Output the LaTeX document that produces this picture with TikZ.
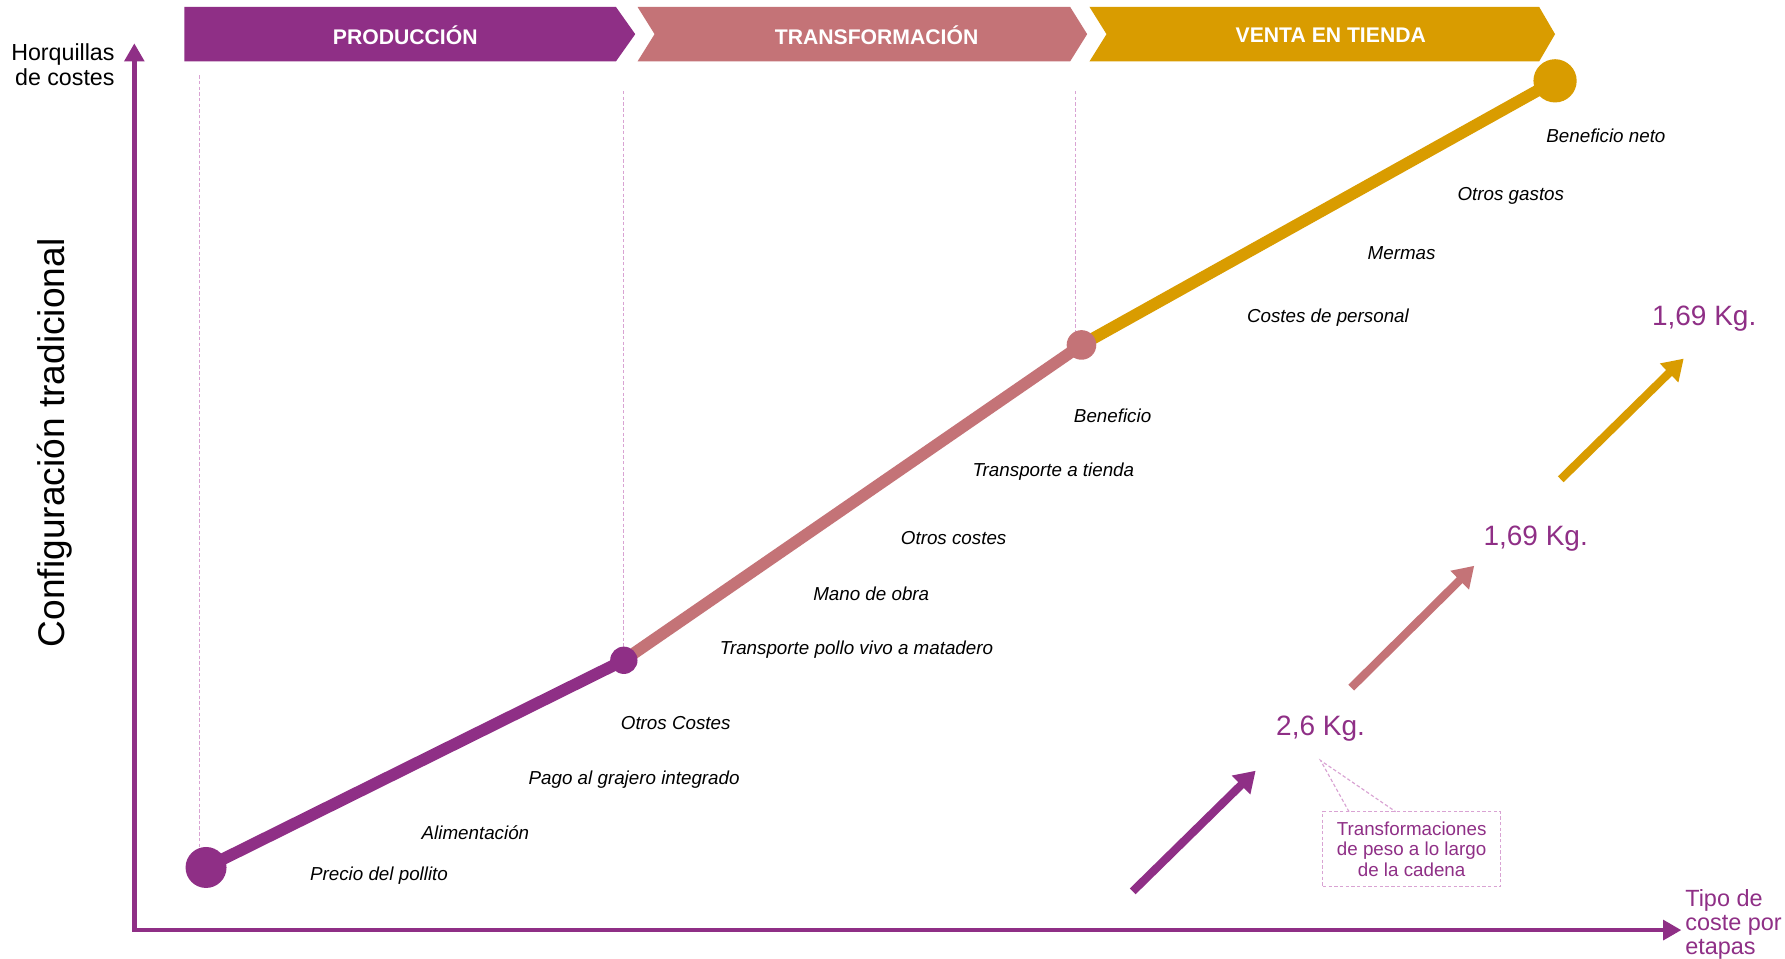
\documentclass[tikz,border=0pt]{standalone}
\usepackage{fontspec}
\setmainfont{Liberation Sans}
\usetikzlibrary{arrows.meta}
\definecolor{cpur}{HTML}{8F2F86}
\definecolor{cpink}{HTML}{C47377}
\definecolor{cgold}{HTML}{D99C00}
\definecolor{cdot}{HTML}{D9A3D3}
\tikzset{
  axisline/.style={draw=cpur, line width=2pt, -{Triangle[length=8pt,width=8.5pt]}},
  guide/.style={draw=cdot, line width=0.4pt, dash pattern=on 1.5pt off 1pt},
  seg/.style={line width=5.2pt},
  dotnode/.style={circle, inner sep=0pt, minimum size=#1},
  costlabel/.style={anchor=west, inner sep=0pt, font=\fontsize{8.25}{10}\selectfont\itshape, text=black},
  bannertext/.style={text=white, font=\fontsize{9.3}{11}\selectfont\bfseries},
  weight/.style={text=cpur, font=\fontsize{12.3}{14}\selectfont, inner sep=0pt},
  wharrow/.style={line width=3.6pt, -{Triangle[length=9pt,width=11pt]}},
}
\begin{document}
\begin{tikzpicture}[x=0.5pt,y=-0.5pt]
\useasboundingbox (0,0) rectangle (1568,842);
\fill[white] (0,0) rectangle (1568,842);

% banners
\fill[cpur] (162,6) -- (541,6) -- (558,30) -- (541,54) -- (162,54) -- cycle;
\fill[cpink] (560,6) -- (940,6) -- (955,30) -- (940,54) -- (560,54) -- (575,30) -- cycle;
\fill[cgold] (957,6) -- (1352,6) -- (1366,30) -- (1352,54) -- (957,54) -- (972,30) -- cycle;
\node[bannertext] (bprod) at (356,31) {PRODUCCIÓN};
\node[bannertext] (btrans) at (770,31) {TRANSFORMACIÓN};
\node[bannertext] (bventa) at (1169,31) {VENTA EN TIENDA};

% axes
\coordinate (origin) at (118,817);
\coordinate (ytip) at (118,38);
\coordinate (xtip) at (1477,817);
\draw[axisline] (origin) -- (ytip);
\draw[axisline] (116,817) -- (xtip);
\node[anchor=east, align=right, font=\fontsize{10.2}{11}\selectfont, inner sep=0pt] (ylab) at (101,57) {Horquillas\\de costes};
\node[anchor=north west, align=left, text=cpur, font=\fontsize{10.3}{10.5}\selectfont, inner sep=0pt] (xlab) at (1480,781) {Tipo de\\coste por\\etapas};
\node[rotate=90, font=\fontsize{16.3}{18}\selectfont] (conf) at (48,389) {Configuración tradicional};

% guide lines
\coordinate (g1a) at (175,66); \coordinate (g1b) at (175,756);
\coordinate (g2a) at (548,80); \coordinate (g2b) at (548,572);
\coordinate (g3a) at (945,80); \coordinate (g3b) at (945,296);
\draw[guide] (g1a) -- (g1b);
\draw[guide] (g2a) -- (g2b);
\draw[guide] (g3a) -- (g3b);

% main line
\coordinate (c1) at (181,762);
\coordinate (c2) at (548,580);
\coordinate (c3) at (950,303);
\coordinate (c4) at (1366,71);
\draw[seg, cpur] (c1) -- (c2);
\draw[seg, cpink] (c2) -- (c3);
\draw[seg, cgold] (c3) -- (c4);
\node[dotnode=18pt, fill=cpur] (d1) at (c1) {};
\node[dotnode=12pt, fill=cpur] (d2) at (c2) {};
\node[dotnode=13pt, fill=cpink] (d3) at (c3) {};
\node[dotnode=19pt, fill=cgold] (d4) at (c4) {};

% cost labels
\node[costlabel] (l1) at (272,769) {Precio del pollito};
\node[costlabel] (l2) at (370,731) {Alimentación};
\node[costlabel] (l3) at (464,685) {Pago al grajero integrado};
\node[costlabel] (l4) at (545,635) {Otros Costes};
\node[costlabel] (l5) at (632,571) {Transporte pollo vivo a matadero};
\node[costlabel] (l6) at (714,522) {Mano de obra};
\node[costlabel] (l7) at (791,473) {Otros costes};
\node[costlabel] (l8) at (854,414) {Transporte a tienda};
\node[costlabel] (l9) at (943,365) {Beneficio};
\node[costlabel] (l10) at (1095,279) {Costes de personal};
\node[costlabel] (l11) at (1201,222) {Mermas};
\node[costlabel] (l12) at (1280,172) {Otros gastos};
\node[costlabel] (l13) at (1358,119) {Beneficio neto};

% weight arrows
\coordinate (a1s) at (995,783); \coordinate (a1e) at (1103,677);
\coordinate (a2s) at (1187,604); \coordinate (a2e) at (1295,497);
\coordinate (a3s) at (1371,421); \coordinate (a3e) at (1479,315);
\draw[wharrow, cpur] (a1s) -- (a1e);
\draw[wharrow, cpink] (a2s) -- (a2e);
\draw[wharrow, cgold] (a3s) -- (a3e);
\node[weight] (w1) at (1160,640) {2,6 Kg.};
\node[weight] (w2) at (1349,473) {1,69 Kg.};
\node[weight] (w3) at (1497,280) {1,69 Kg.};

% callout
\node[draw=cdot, dash pattern=on 1.5pt off 1pt, line width=0.5pt, text=cpur, align=center,
      font=\fontsize{8.25}{9.2}\selectfont, minimum width=78pt, minimum height=33pt, inner sep=1pt] (note) at (1240,746)
      {Transformaciones\\de peso a lo largo\\de la cadena};
\coordinate (ctip) at (1160,668);
\coordinate (cl) at (1185,713);
\coordinate (cr) at (1226,713);
\draw[draw=cdot, dash pattern=on 1.5pt off 1pt, line width=0.5pt] (cl) -- (ctip) -- (cr);
\end{tikzpicture}
\end{document}
